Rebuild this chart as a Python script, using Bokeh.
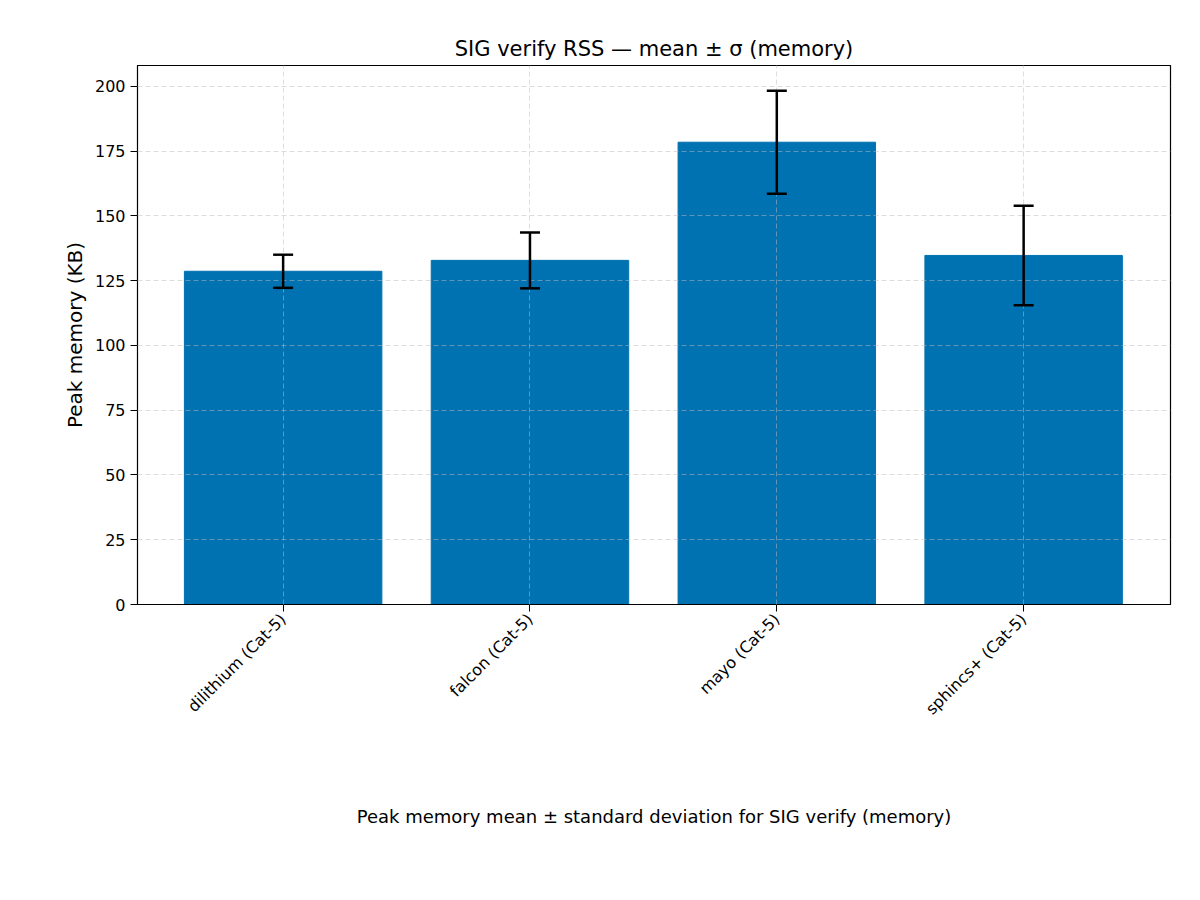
import math
from bokeh.plotting import figure
from bokeh.models import Whisker, ColumnDataSource, Title, FixedTicker
from bokeh.embed import file_html
from bokeh.resources import INLINE

schemes = ["dilithium (Cat-5)", "falcon (Cat-5)", "mayo (Cat-5)", "sphincs+ (Cat-5)"]
mean_kb = [128.6, 132.8, 178.4, 134.7]
std_kb = [6.4, 10.8, 19.9, 19.2]

xs = list(range(len(schemes)))
src = ColumnDataSource(dict(
    x=xs, top=mean_kb,
    lower=[m - s for m, s in zip(mean_kb, std_kb)],
    upper=[m + s for m, s in zip(mean_kb, std_kb)],
))

FONT = "DejaVu Sans"
p = figure(frame_width=1033, frame_height=539, x_range=(-0.59, 3.595), y_range=(0, 208),
           output_backend="svg", toolbar_location=None, min_border_left=137,
           min_border_top=65, min_border_right=20)
p.title.text = "SIG verify RSS — mean ± σ (memory)"
p.title.align = "center"
p.title.text_font = FONT
p.title.text_font_size = "21px"
p.title.text_font_style = "normal"
p.title.text_color = "black"

p.vbar(x="x", top="top", width=0.8, source=src, color="#0072b2")
w = Whisker(base="x", lower="lower", upper="upper", source=src, line_width=2.5,
            line_color="black", level="overlay")
w.upper_head.size = 20
w.lower_head.size = 20
w.upper_head.line_width = 2.5
w.lower_head.line_width = 2.5
p.add_layout(w)

p.xaxis.ticker = FixedTicker(ticks=xs)
p.xaxis.major_label_overrides = {i: s for i, s in enumerate(schemes)}
p.xaxis.major_label_orientation = math.pi / 4
p.yaxis.ticker = FixedTicker(ticks=[0, 25, 50, 75, 100, 125, 150, 175, 200])
p.yaxis.axis_label = "Peak memory (KB)"
for ax in (p.xaxis, p.yaxis):
    ax.major_label_text_font = FONT
    ax.major_label_text_font_size = "16px"
    ax.major_label_text_color = "black"
    ax.axis_label_text_font = FONT
    ax.axis_label_text_font_size = "20px"
    ax.axis_label_text_font_style = "normal"
    ax.axis_label_text_color = "black"
    ax.minor_tick_line_color = None
    ax.major_tick_out = 7
    ax.major_tick_in = 0
    ax.major_tick_line_color = "black"
    ax.axis_line_color = "black"

p.grid.grid_line_color = "#bbbbbb"
p.grid.grid_line_dash = "5 3"
p.grid.grid_line_alpha = 0.5
p.grid.level = "overlay"
p.outline_line_color = "black"
p.outline_line_width = 1.2

cap = Title(text="Peak memory mean ± standard deviation for SIG verify (memory)",
            align="center", text_font=FONT, text_font_size="18px",
            text_font_style="normal", text_color="black", standoff=150)
p.add_layout(cap, "below")

open("out.html", "w").write(file_html(p, INLINE))
